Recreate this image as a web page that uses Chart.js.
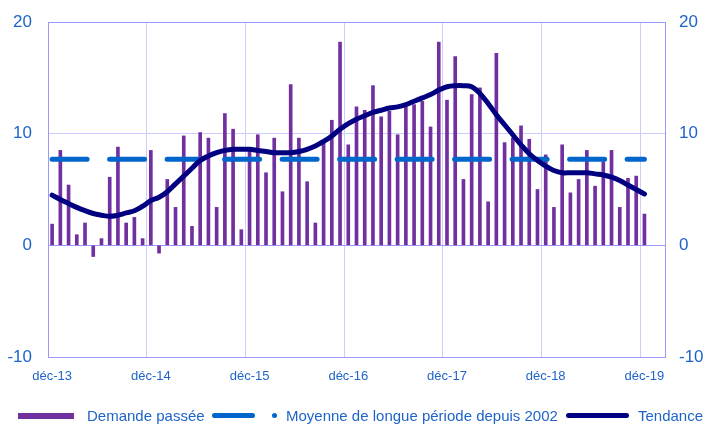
<!DOCTYPE html>
<html><head><meta charset="utf-8">
<script src="https://cdn.jsdelivr.net/npm/chart.js@4/dist/chart.umd.min.js"></script>
<style>
html,body{margin:0;padding:0;background:#fff;}
#wrap{position:relative;width:706px;height:430px;overflow:hidden;}
canvas{position:absolute;left:0;top:0;}
.lg{position:absolute;font-family:"Liberation Sans",Arial,sans-serif;font-size:15px;color:#1E64C8;line-height:16px;white-space:nowrap;}
.sym{position:absolute;}
</style></head><body>
<div id="wrap"><canvas id="c" width="706" height="430"></canvas>
<div class="sym" style="left:18px;top:413px;width:56px;height:6px;background:#7030A0"></div>
<div class="lg" style="left:87px;top:408px">Demande passée</div>
<div class="sym" style="left:212px;top:413px;width:43px;height:5px;border-radius:3px;background:#0066CC"></div>
<div class="sym" style="left:272px;top:413px;width:5px;height:5px;border-radius:50%;background:#0066CC"></div>
<div class="lg" style="left:286px;top:408px">Moyenne de longue période depuis 2002</div>
<div class="sym" style="left:566px;top:413px;width:63px;height:5px;border-radius:3px;background:#000080"></div>
<div class="lg" style="left:638px;top:408px">Tendance</div>
</div>
<script>
// Month names (French) used to build category labels déc-13 .. févr-20
const monthNames = ['janv','févr','mars','avr','mai','juin','juil','août','sept','oct','nov','déc'];
const startMonth = 11, startYear = 13, categoryCount = 75;
const categories = [];
for (let i = 0; i < categoryCount; i++) {
  const m = (startMonth + i) % 12;
  const y = startYear + Math.floor((startMonth + i) / 12);
  categories.push(monthNames[m] + '-' + y);
}
const yTicks = [-10, 0, 10, 20];

// Demande passée (monthly bars, déc-13 .. déc-19)
const demande = [
  1.9, 8.5, 5.4, 0.95, 2.0, -1.0, 0.6, 6.1, 8.8, 2.0, 2.5, 0.6,
  8.5, -0.7, 5.9, 3.4, 9.8, 1.7, 10.1, 9.6, 3.4, 11.8, 10.4, 1.4,
  8.5, 9.9, 6.5, 9.6, 4.8, 14.4, 9.6, 5.7, 2.0, 9.2, 11.2, 18.2,
  9.0, 12.4, 12.1, 14.3, 11.5, 12.0, 9.9, 12.4, 12.6, 12.9, 10.6, 18.2,
  13.0, 16.9, 5.9, 13.5, 14.1, 3.9, 17.2, 9.2, 9.6, 10.7, 9.5, 5.0,
  8.1, 3.4, 9.0, 4.7, 5.9, 8.5, 5.3, 7.5, 8.5, 3.4, 6.0, 6.2,
  2.8
];
// Tendance
const tendance = [
  4.5, 4.1, 3.75, 3.4, 3.1, 2.85, 2.7, 2.6, 2.7, 2.9, 3.1, 3.5,
  4.0, 4.3, 4.8, 5.5, 6.2, 6.9, 7.6, 8.0, 8.3, 8.5, 8.6, 8.6,
  8.6, 8.5, 8.4, 8.3, 8.3, 8.3, 8.4, 8.6, 8.9, 9.3, 9.8, 10.4,
  10.9, 11.3, 11.6, 11.9, 12.1, 12.3, 12.4, 12.6, 12.9, 13.2, 13.5, 13.9,
  14.2, 14.3, 14.3, 14.2, 13.6, 12.7, 11.7, 10.8, 9.9, 9.0, 8.2, 7.6,
  7.1, 6.7, 6.5, 6.5, 6.5, 6.5, 6.4, 6.3, 6.1, 5.8, 5.4, 5.0,
  4.6
];
// Moyenne de longue période depuis 2002 (constant level)
const moyenneLevel = 7.7;
const moyenne = demande.map(() => moyenneLevel);

const txtColor = '#1E64C8';
const font = 'Liberation Sans, Arial, sans-serif';
const dark = '#9999FF', light = '#CCCCFF';
const clear = 'rgba(0,0,0,0)';

new Chart(document.getElementById('c'), {
  type: 'bar',
  data: {
    labels: categories,
    datasets: [
      { type: 'line', label: 'Tendance', data: tendance, borderColor: '#000080', borderWidth: 5,
        pointRadius: 0, tension: 0.4, borderCapStyle: 'round', borderJoinStyle: 'round', order: 1, yAxisID: 'y' },
      { type: 'line', label: 'Moyenne de longue période depuis 2002', data: moyenne, borderColor: '#0066CC', borderWidth: 5,
        borderDash: [35, 22.5], borderCapStyle: 'round', pointRadius: 0, order: 2, yAxisID: 'y' },
      { type: 'bar', label: 'Demande passée', data: demande, backgroundColor: '#7030A0',
        barThickness: 3, order: 3, yAxisID: 'y' }
    ]
  },
  options: {
    responsive: false,
    animation: false,
    devicePixelRatio: 1,
    layout: { padding: { left: 0, right: 0, top: 22, bottom: 43 } },
    plugins: { legend: { display: false }, tooltip: { enabled: false } },
    scales: {
      x: {
        offset: true,
        afterFit: s => { s.height = 30; },
        grid: {
          offset: true, drawTicks: false, lineWidth: 1,
          color: ctx => {
            if (ctx.tick === undefined || ctx.index === undefined) return dark;
            if (ctx.index === 0) return clear;
            return ctx.index % 12 === 0 ? light : clear;
          }
        },
        border: { display: true, color: dark },
        ticks: {
          autoSkip: false, maxRotation: 0, minRotation: 0, padding: 12,
          color: txtColor, font: { family: font, size: 13 },
          callback: (v, i) => (i % 12 === 0 ? categories[i] : '')
        }
      },
      y: {
        position: 'left', min: -10, max: 20,
        afterBuildTicks: s => { s.ticks = yTicks.map(v => ({ value: v })); },
        afterFit: s => { s.width = 48; },
        grid: { drawTicks: true, tickLength: 14, tickColor: clear,
                color: ctx => (ctx.tick && ctx.tick.value === 10 ? light : dark) },
        border: { display: true, color: dark },
        ticks: { padding: 2, color: txtColor, font: { family: font, size: 17 } }
      },
      y2: {
        position: 'right', min: -10, max: 20,
        afterBuildTicks: s => { s.ticks = yTicks.map(v => ({ value: v })); },
        afterFit: s => { s.width = 41; },
        grid: { display: true, drawOnChartArea: false, drawTicks: true, tickLength: 12, tickColor: clear, color: clear },
        border: { display: true, color: dark },
        ticks: { padding: 2, color: txtColor, font: { family: font, size: 17 } }
      }
    }
  }
});
</script>
</body></html>
